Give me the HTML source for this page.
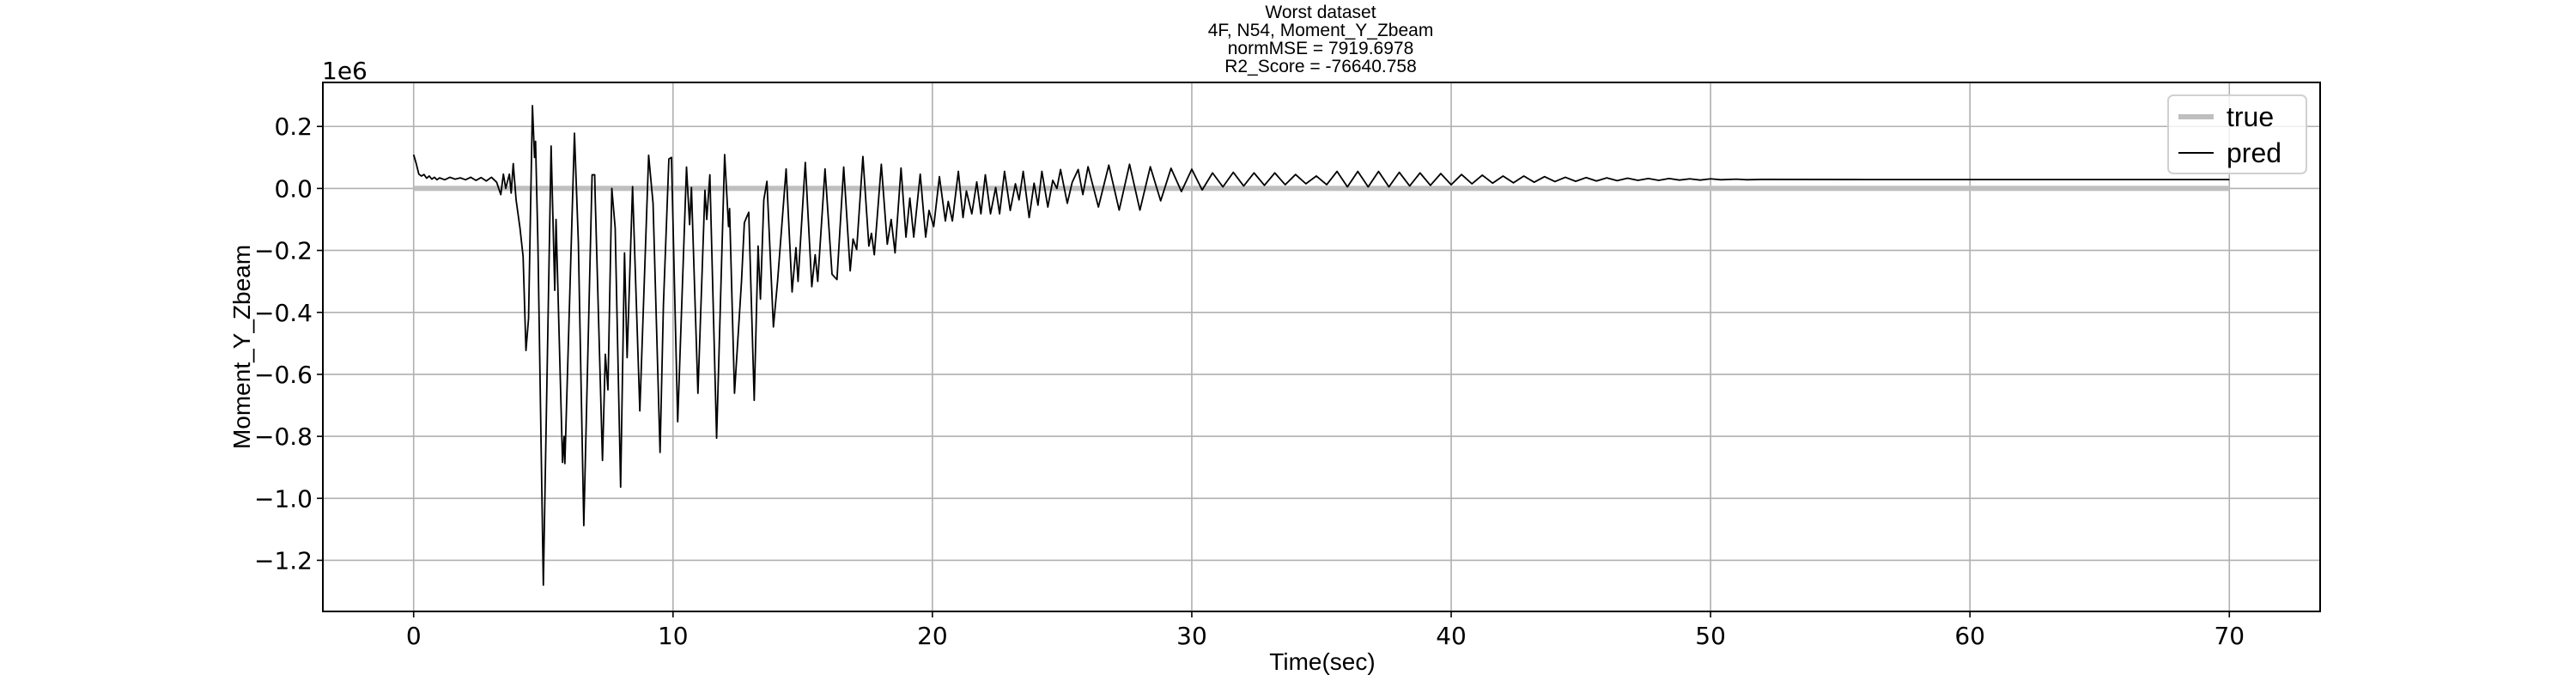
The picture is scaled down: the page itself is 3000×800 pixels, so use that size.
<!DOCTYPE html>
<html><head><meta charset="utf-8"><style>
html,body{margin:0;padding:0;background:#fff;}
svg{display:block;}
.tk{font-family:"DejaVu Sans","Liberation Sans",sans-serif;font-size:28px;fill:#000;}
.lb{font-family:"Liberation Sans Narrow","Liberation Sans",sans-serif;font-size:28px;fill:#000;}
.tt{font-family:"Liberation Sans Narrow","Liberation Sans",sans-serif;font-size:21px;fill:#000;}
</style></head><body>
<svg id="chart" width="3000" height="800" viewBox="0 0 3000 800" xmlns="http://www.w3.org/2000/svg">
<rect x="0" y="0" width="3000" height="800" fill="#fff"/>
<g id="title">
<text class="tt" x="1538" y="21" text-anchor="middle">Worst dataset</text>
<text class="tt" x="1538" y="42" text-anchor="middle">4F, N54, Moment_Y_Zbeam</text>
<text class="tt" x="1538" y="63" text-anchor="middle">normMSE = 7919.6978</text>
<text class="tt" x="1538" y="84" text-anchor="middle">R2_Score = -76640.758</text>
</g>
<g id="grid"></g>
<g id="series"></g>
<rect x="376" y="96" width="2326" height="616" fill="none" stroke="#000" stroke-width="2"/>
<g id="ticks"></g>
<text class="tk" x="375" y="92">1e6</text>
<text class="lb" x="1540" y="780" text-anchor="middle">Time(sec)</text>
<text class="lb" x="0" y="0" text-anchor="middle" transform="translate(291,404) rotate(-90)">Moment_Y_Zbeam</text>
<g>
<rect x="2525" y="111" width="161" height="91" rx="6" fill="#fff" fill-opacity="0.8" stroke="#d0d0d0" stroke-width="2"/>
<line x1="2537" y1="136" x2="2578" y2="136" stroke="#bfbfbf" stroke-width="6"/>
<text class="lb" x="2593" y="147" style="font-size:32px">true</text>
<line x1="2537" y1="178" x2="2578" y2="178" stroke="#000" stroke-width="2"/>
<text class="lb" x="2593" y="189" style="font-size:32px">pred</text>
</g>
</svg>
<script>
const xTicks = [0,10,20,30,40,50,60,70];
const yTicks = [0.2,0.0,-0.2,-0.4,-0.6,-0.8,-1.0,-1.2];
const yTickLabels = ["0.2","0.0","\u22120.2","\u22120.4","\u22120.6","\u22120.8","\u22121.0","\u22121.2"];
const trueTimes = [0,70];
const trueValues = [0,0];
const predTimes = [0,0.1,0.2,0.3,0.4,0.5,0.6,0.7,0.8,0.9,1.0,1.2,1.4,1.6,1.8,2.0,2.2,2.4,2.6,2.8,3.0,3.2,3.36,3.46,3.55,3.69,3.76,3.84,3.95,4.1,4.22,4.33,4.43,4.58,4.66,4.7,4.79,5.0,5.3,5.44,5.49,5.74,5.8,5.83,6.2,6.35,6.56,6.88,6.98,7.0,7.28,7.39,7.49,7.64,7.77,7.98,8.13,8.23,8.44,8.72,9.06,9.23,9.5,9.63,9.84,9.94,10.18,10.52,10.64,10.71,10.96,11.23,11.3,11.42,11.68,11.99,12.14,12.18,12.37,12.64,12.75,12.83,12.92,13.13,13.28,13.37,13.5,13.62,13.87,14.03,14.36,14.59,14.74,14.82,15.1,15.35,15.48,15.58,15.86,16.13,16.32,16.58,16.83,16.94,17.08,17.32,17.55,17.65,17.76,18.03,18.26,18.41,18.56,18.79,18.98,19.13,19.28,19.53,19.74,19.87,20.05,20.27,20.5,20.61,20.77,21.0,21.18,21.31,21.52,21.71,21.87,22.04,22.24,22.44,22.59,22.78,23.0,23.2,23.34,23.5,23.73,23.92,24.07,24.22,24.45,24.64,24.8,24.94,25.2,25.39,25.62,25.8,26.0,26.4,26.8,27.2,27.6,28.0,28.4,28.8,29.2,29.6,30.0,30.4,30.8,31.2,31.6,32.0,32.4,32.8,33.2,33.6,34.0,34.4,34.8,35.2,35.6,36.0,36.4,36.8,37.2,37.6,38.0,38.4,38.8,39.2,39.6,40.0,40.4,40.8,41.2,41.6,42.0,42.4,42.8,43.2,43.6,44.0,44.4,44.8,45.2,45.6,46.0,46.4,46.8,47.2,47.6,48.0,48.4,48.8,49.2,49.6,50.0,50.4,51.0,51.4,52.0,56.0,70.0];
const predValues = [0.109,0.08,0.046,0.04,0.045,0.033,0.04,0.03,0.036,0.028,0.034,0.028,0.036,0.03,0.034,0.028,0.036,0.026,0.035,0.024,0.036,0.02,-0.02,0.046,0.0,0.046,-0.015,0.08,-0.037,-0.128,-0.22,-0.523,-0.42,0.267,0.1,0.152,-0.174,-1.28,0.137,-0.329,-0.1,-0.884,-0.8,-0.888,0.178,-0.174,-1.088,0.044,0.044,-0.03,-0.878,-0.535,-0.65,0.0,-0.128,-0.964,-0.208,-0.546,0.006,-0.718,0.107,-0.048,-0.852,-0.375,0.095,0.1,-0.753,0.069,-0.117,0.003,-0.661,-0.006,-0.1,0.044,-0.806,0.109,-0.123,-0.065,-0.661,-0.3,-0.111,-0.094,-0.077,-0.684,-0.186,-0.357,-0.037,0.023,-0.447,-0.3,0.063,-0.334,-0.191,-0.3,0.084,-0.317,-0.214,-0.3,0.063,-0.277,-0.294,0.069,-0.266,-0.163,-0.197,0.103,-0.186,-0.145,-0.214,0.078,-0.18,-0.1,-0.208,0.066,-0.157,-0.031,-0.157,0.046,-0.157,-0.071,-0.123,0.038,-0.105,-0.042,-0.105,0.055,-0.094,-0.008,-0.082,0.021,-0.082,0.044,-0.082,0.003,-0.082,0.055,-0.071,0.015,-0.037,0.055,-0.094,0.017,-0.054,0.055,-0.06,0.026,0.0,0.061,-0.048,0.02,0.061,-0.02,0.07,-0.06,0.075,-0.07,0.078,-0.07,0.07,-0.04,0.065,-0.01,0.062,-0.005,0.05,0.005,0.052,0.008,0.05,0.01,0.05,0.012,0.045,0.015,0.04,0.012,0.055,0.005,0.055,0.005,0.055,0.005,0.052,0.008,0.05,0.01,0.048,0.012,0.045,0.015,0.043,0.017,0.04,0.018,0.04,0.02,0.038,0.022,0.036,0.023,0.035,0.024,0.034,0.025,0.033,0.026,0.032,0.026,0.032,0.027,0.031,0.027,0.031,0.028,0.030,0.028,0.029,0.0286,0.0286];

const NS='http://www.w3.org/2000/svg';
const X0=376,X1=2702,Y0=96,Y1=712;
const xMin=-3.5,xMax=73.5,yMin=-1.365,yMax=0.342;
function sx(t){return X0+(t-xMin)/(xMax-xMin)*(X1-X0);}
function sy(v){return Y1-(v-yMin)/(yMax-yMin)*(Y1-Y0);}
function mk(tag,attrs,parent){const e=document.createElementNS(NS,tag);for(const k in attrs)e.setAttribute(k,attrs[k]);parent.appendChild(e);return e;}
const grid=document.getElementById('grid'),ticks=document.getElementById('ticks'),series=document.getElementById('series');
xTicks.forEach(t=>{
  const g=mk('line',{x1:sx(t),x2:sx(t),y1:Y0,y2:Y1,stroke:'#b0b0b0','stroke-width':1.6},grid);
  
  
  const tk=mk('line',{x1:sx(t),x2:sx(t),y1:Y1,y2:Y1+7,stroke:'#000','stroke-width':1.6},ticks);
  
  
  const l=mk('text',{x:sx(t),y:Y1+38,'text-anchor':'middle','class':'tk'},ticks);
  l.textContent=String(t);
  
  
});
yTicks.forEach((v,i)=>{
  const g=mk('line',{x1:X0,x2:X1,y1:sy(v),y2:sy(v),stroke:'#b0b0b0','stroke-width':1.6},grid);
  
  
  const tk=mk('line',{x1:X0-7,x2:X0,y1:sy(v),y2:sy(v),stroke:'#000','stroke-width':1.6},ticks);
  
  
  const l=mk('text',{x:X0-12,y:sy(v)+10,'text-anchor':'end','class':'tk'},ticks);
  l.textContent=yTickLabels[i];
  
  
});
const tl=mk('polyline',{points:trueTimes.map((t,i)=>sx(t)+','+sy(trueValues[i])).join(' '),fill:'none',stroke:'#bfbfbf','stroke-width':6},series);


const pl=mk('polyline',{points:predTimes.map((t,i)=>sx(t)+','+sy(predValues[i])).join(' '),fill:'none',stroke:'#000','stroke-width':1.8,'stroke-linejoin':'round'},series);


</script>
</body></html>
